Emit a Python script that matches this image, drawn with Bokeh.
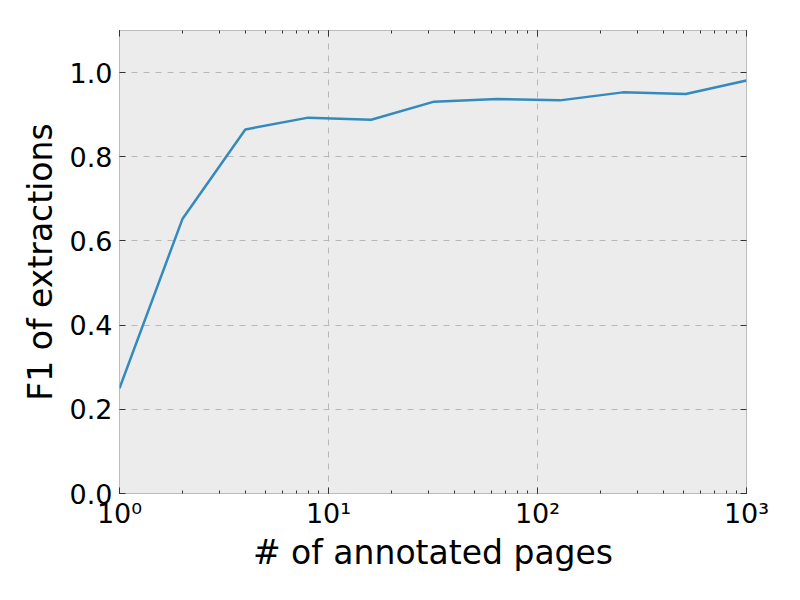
from bokeh.plotting import figure
from bokeh.models import LogAxis, LinearAxis, FixedTicker, LogTicker, Range1d, NumeralTickFormatter
from bokeh.embed import file_html
from bokeh.resources import INLINE

pages = [1, 2, 4, 8, 16, 32, 64, 128, 256, 512, 1000]
f1 = [0.25, 0.652, 0.865, 0.893, 0.888, 0.931, 0.937, 0.934, 0.953, 0.949, 0.981]
x_ticks = [1, 10, 100, 1000]
x_tick_labels = ["10⁰", "10¹", "10²", "10³"]
y_ticks = [0.0, 0.2, 0.4, 0.6, 0.8, 1.0]

FONT = "DejaVu Sans"

p = figure(width=800, height=600, x_axis_type="log",
           x_range=Range1d(1, 1000), y_range=Range1d(0, 1.1),
           output_backend="svg", toolbar_location=None,
           min_border_left=119, min_border_right=54, min_border_top=30, min_border_bottom=107)
p.background_fill_color = "#ececec"
p.border_fill_color = "white"
p.outline_line_color = "#bcbcbc"
p.outline_line_width = 1

p.line(pages, f1, line_color="#348ABD", line_width=2.5)

def style(ax, labels=True):
    ax.axis_line_color = None
    ax.major_tick_in = 6
    ax.major_tick_out = 0
    ax.minor_tick_in = 3
    ax.minor_tick_out = 0
    ax.major_tick_line_color = "#333333"
    ax.minor_tick_line_color = "#333333"
    ax.major_label_text_font = FONT
    ax.major_label_text_color = "black"
    ax.axis_label_text_font = FONT
    ax.axis_label_text_font_style = "normal"
    ax.axis_label_text_color = "black"
    if not labels:
        ax.major_label_text_font_size = "0px"
        ax.major_label_standoff = 0

xa = p.xaxis[0]
xa.ticker = LogTicker(desired_num_ticks=4, num_minor_ticks=10)
xa.major_label_overrides = {t: l for t, l in zip(x_ticks, x_tick_labels)}
style(xa)
xa.major_label_text_font_size = "27px"
xa.major_label_standoff = 4
xa.axis_label = "# of annotated pages"
xa.axis_label_text_font_size = "33px"
xa.axis_label_standoff = 1

ya = p.yaxis[0]
ya.ticker = FixedTicker(ticks=y_ticks)
ya.formatter = NumeralTickFormatter(format="0.0")
style(ya)
ya.minor_tick_in = 0
ya.major_label_text_font_size = "27px"
ya.major_label_standoff = 7
ya.axis_label = "F1 of extractions"
ya.axis_label_text_font_size = "33px"
ya.axis_label_standoff = 7

top = LogAxis(ticker=LogTicker(desired_num_ticks=4, num_minor_ticks=10))
style(top, labels=False)
top.major_label_overrides = {t: "" for t in x_ticks}
p.add_layout(top, "above")

right = LinearAxis(ticker=FixedTicker(ticks=y_ticks))
style(right, labels=False)
right.minor_tick_in = 0
right.major_label_overrides = {t: "" for t in y_ticks}
p.add_layout(right, "right")

p.xgrid.ticker = FixedTicker(ticks=x_ticks)
p.xgrid.grid_line_color = "#b8b8b8"
p.xgrid.grid_line_dash = "6 6"
p.xgrid.grid_line_width = 1
p.ygrid.grid_line_color = "#b8b8b8"
p.ygrid.grid_line_dash = "6 6"
p.ygrid.grid_line_width = 1

open("out.html", "w").write(file_html(p, INLINE))
